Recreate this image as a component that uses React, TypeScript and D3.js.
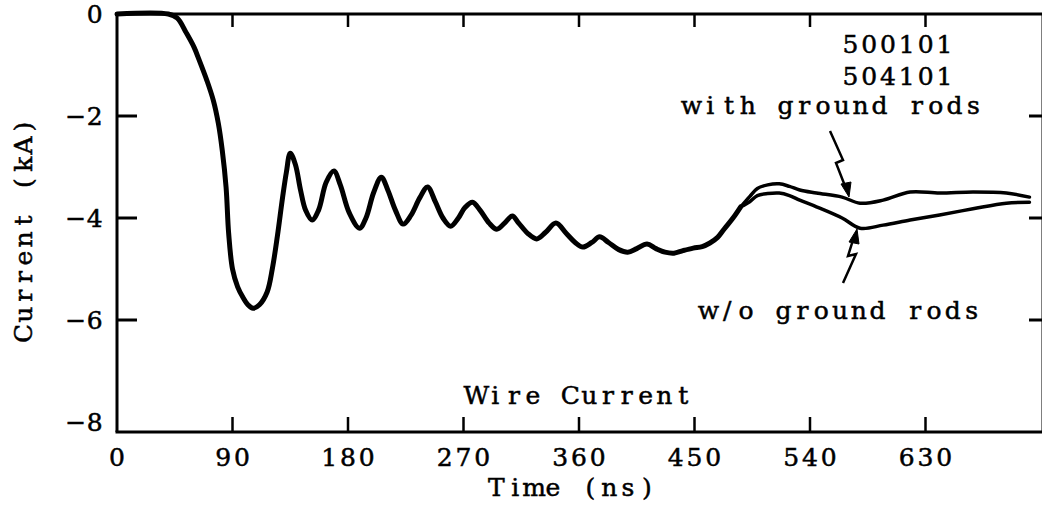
import React from "react";
import * as d3 from "d3";

// Common trace (both shots overlap up to ~486 ns)
const commonTime = [0, 40, 47, 54, 60, 64, 70, 75, 79, 82, 85, 87, 90, 94, 98, 102, 106, 111, 117, 121, 125, 129, 132, 135, 139, 143, 147, 152, 157, 163, 169, 174, 181, 189, 194, 200, 206, 211, 217, 223, 229, 236, 242, 248, 254, 260, 266, 271, 277, 283, 290, 296, 302, 308, 313, 320, 327, 334, 342, 350, 357, 363, 370, 376, 383, 391, 398, 405, 413, 420, 427, 434, 441, 449, 456, 462, 468, 473, 480, 486];
const commonCurrent = [0, 0, -0.08, -0.37, -0.65, -0.9, -1.3, -1.69, -2.15, -2.67, -3.4, -4.3, -5.0, -5.35, -5.55, -5.7, -5.77, -5.7, -5.45, -5.0, -4.35, -3.6, -3.1, -2.73, -2.95, -3.45, -3.85, -4.04, -3.85, -3.3, -3.08, -3.35, -3.9, -4.2, -4.0, -3.5, -3.2, -3.45, -3.85, -4.12, -3.95, -3.6, -3.39, -3.68, -4.0, -4.16, -4.0, -3.8, -3.69, -3.85, -4.1, -4.22, -4.1, -3.96, -4.1, -4.3, -4.41, -4.28, -4.1, -4.3, -4.48, -4.57, -4.48, -4.37, -4.48, -4.62, -4.67, -4.6, -4.51, -4.6, -4.67, -4.69, -4.64, -4.59, -4.56, -4.49, -4.38, -4.22, -4.0, -3.78];

// Late-time split: 500101 (with ground rods) and 504101 (w/o ground rods)
const lateTime = [486, 493, 499, 507, 516, 524, 532, 545, 565, 579, 597, 618, 641, 667, 693, 711];
const withRodsCurrent = [-3.78, -3.58, -3.42, -3.35, -3.33, -3.38, -3.45, -3.51, -3.59, -3.71, -3.65, -3.49, -3.51, -3.49, -3.51, -3.59];
const withoutRodsCurrent = [-3.78, -3.68, -3.56, -3.52, -3.51, -3.56, -3.65, -3.78, -4.0, -4.2, -4.14, -4.04, -3.94, -3.82, -3.71, -3.69];

const xTicks = [0, 90, 180, 270, 360, 450, 540, 630];
const yTicks = [0, -2, -4, -6, -8];
const innerTicksX = [90, 180, 270, 360, 450, 540, 630];
const innerTicksY = [-2, -4, -6];

const W = 1042;
const H = 506;
const FONT = "'DejaVu Serif', serif";
const FS = 25;
const CW = 18.8; // typewriter cell width

function Mono({ x, y, s, transform }: { x: number; y: number; s: string; transform?: string }) {
  const xs = Array.from(s).map((_, i) => (x + CW * (i + 0.5)).toFixed(2)).join(" ");
  return (
    <text
      x={xs}
      y={y}
      transform={transform}
      fontFamily={FONT}
      fontSize={FS}
      textAnchor="middle"
      fill="#000"
      stroke="#000"
      strokeWidth={0.5}
    >
      {s}
    </text>
  );
}

export default function App() {
  const x = d3.scaleLinear().domain([0, 720]).range([117, 1041]);
  const y = d3.scaleLinear().domain([0, -6]).range([14, 320]);
  const yBottom = 432;
  const yTop = y(0);

  const line = d3
    .line<[number, number]>()
    .x((d) => x(d[0]))
    .y((d) => y(d[1]))
    .curve(d3.curveCatmullRom.alpha(0.5));

  const common = commonTime.map((t, i) => [t, commonCurrent[i]] as [number, number]);
  const withRods = lateTime.map((t, i) => [t, withRodsCurrent[i]] as [number, number]);
  const withoutRods = lateTime.map((t, i) => [t, withoutRodsCurrent[i]] as [number, number]);

  return (
    <svg width={W} height={H} style={{ position: "fixed", left: 0, top: 0, background: "#fff" }}>
      <rect x={0} y={0} width={W} height={H} fill="#fff" />
      {/* frame */}
      <line x1={x(0)} x2={x(0)} y1={yTop} y2={yBottom} stroke="#000" strokeWidth={3} />
      <line x1={x(0) - 1.5} x2={W} y1={yBottom} y2={yBottom} stroke="#000" strokeWidth={3} />
      <line x1={x(0) - 1.5} x2={W} y1={yTop} y2={yTop} stroke="#000" strokeWidth={3} />
      <line x1={x(720) + 2} x2={x(720) + 2} y1={yTop} y2={yBottom} stroke="#000" strokeWidth={3} />

      {/* ticks */}
      {innerTicksX.map((t) => (
        <g key={"xt" + t}>
          <line x1={x(t)} x2={x(t)} y1={yBottom} y2={yBottom - 15} stroke="#000" strokeWidth={2.5} />
          <line x1={x(t)} x2={x(t)} y1={yTop} y2={yTop + 13} stroke="#000" strokeWidth={2.5} />
        </g>
      ))}
      {innerTicksY.map((v) => (
        <g key={"yt" + v}>
          <line x1={x(0)} x2={x(0) + 20} y1={y(v)} y2={y(v)} stroke="#000" strokeWidth={3} />
          <line x1={x(720) - 12} x2={x(720) + 2} y1={y(v)} y2={y(v)} stroke="#000" strokeWidth={3} />
        </g>
      ))}

      {/* tick labels */}
      {xTicks.map((t) => {
        const s = String(t);
        return <Mono key={"xl" + t} x={x(t) - (s.length * CW) / 2} y={466} s={s} />;
      })}
      {yTicks.map((v) => {
        const s = v === 0 ? "0" : "\u2212" + Math.abs(v);
        return <Mono key={"yl" + v} x={104 - s.length * CW} y={y(v) + 9} s={s} />;
      })}

      {/* axis titles */}
      <Mono x={487} y={496} s="Time (ns)" />
      <Mono x={-230 - (12 * CW) / 2} y={32} s="Current (kA)" transform="rotate(-90)" />

      {/* curves */}
      <path d={line(common) ?? ""} fill="none" stroke="#000" strokeWidth={5} strokeLinejoin="round" strokeLinecap="round" />
      <path d={line(withRods) ?? ""} fill="none" stroke="#000" strokeWidth={3.5} strokeLinejoin="round" strokeLinecap="round" />
      <path d={line(withoutRods) ?? ""} fill="none" stroke="#000" strokeWidth={3.5} strokeLinejoin="round" strokeLinecap="round" />

      {/* annotations */}
      <Mono x={467} y={404} s="Wire Current" />
      <Mono x={841} y={53} s="500101" />
      <Mono x={841} y={85} s="504101" />
      <Mono x={682} y={114} s="with ground rods" />
      <Mono x={699} y={319} s="w/o ground rods" />

      {/* arrow to "with ground rods" curve */}
      <polyline points="830,131 843,160 836,163 845,186" fill="none" stroke="#000" strokeWidth={2.5} />
      <polygon points="841,184 851,182 849,197" fill="#000" stroke="#000" strokeWidth={1} />
      {/* arrow to "w/o ground rods" curve */}
      <polyline points="843,283 856,254 848,256 853,240" fill="none" stroke="#000" strokeWidth={2.5} />
      <polygon points="849,242 859,244 857,229" fill="#000" stroke="#000" strokeWidth={1} />
    </svg>
  );
}
